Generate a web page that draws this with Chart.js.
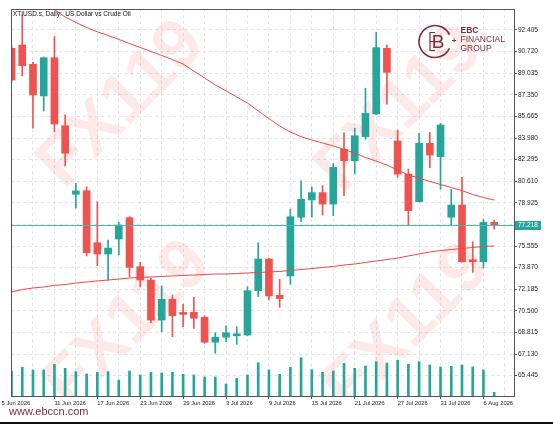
<!DOCTYPE html>
<html>
<head>
<meta charset="utf-8">
<script src="https://cdn.jsdelivr.net/npm/chart.js@4.4.1/dist/chart.umd.min.js"></script>
<style>
html,body{margin:0;padding:0;background:#fff;}
canvas{display:block;}
</style>
</head>
<body>
<canvas id="chart" width="553" height="424"></canvas>
<script>
// daily bars, XTIUSD.s
const dates = [
"5 Jun 2026","8 Jun 2026","9 Jun 2026","10 Jun 2026","11 Jun 2026","12 Jun 2026",
"15 Jun 2026","16 Jun 2026","17 Jun 2026","18 Jun 2026","19 Jun 2026",
"22 Jun 2026","23 Jun 2026","24 Jun 2026","25 Jun 2026","26 Jun 2026",
"29 Jun 2026","30 Jun 2026","1 Jul 2026","2 Jul 2026","3 Jul 2026",
"6 Jul 2026","7 Jul 2026","8 Jul 2026","9 Jul 2026","10 Jul 2026",
"13 Jul 2026","14 Jul 2026","15 Jul 2026","16 Jul 2026","17 Jul 2026",
"20 Jul 2026","21 Jul 2026","22 Jul 2026","23 Jul 2026","24 Jul 2026",
"27 Jul 2026","28 Jul 2026","29 Jul 2026","30 Jul 2026","31 Jul 2026",
"3 Aug 2026","4 Aug 2026","5 Aug 2026","6 Aug 2026","7 Aug 2026"
];

const open = [90.98,91.23,89.73,87.26,90.24,84.94,79.59,79.87,75.81,74.93,76.10,
77.76,73.94,72.90,69.78,71.40,70.30,70.38,70.00,68.05,68.44,68.55,68.61,72.07,
74.54,71.71,73.22,77.80,79.15,79.72,78.83,83.10,82.21,84.08,85.85,90.98,83.75,
81.17,79.01,83.57,82.52,77.80,78.75,74.40,74.33,77.40];
const high = [91.20,93.58,89.89,90.30,91.88,85.78,80.45,80.18,79.01,76.02,77.40,
77.85,74.28,73.03,72.44,71.73,71.03,71.55,70.10,68.79,69.32,69.26,72.38,75.81,
74.60,72.96,78.42,80.63,80.18,80.26,82.00,84.39,84.74,87.86,92.23,91.24,84.60,
81.56,84.35,84.42,85.13,79.98,80.92,75.89,77.66,77.58];
const low = [88.30,88.82,84.74,86.09,84.47,81.80,78.50,74.78,74.02,72.90,74.88,
73.16,72.38,69.57,68.87,68.48,69.26,69.13,67.96,67.19,68.09,67.89,68.55,71.60,
71.35,70.77,72.57,77.45,77.80,77.97,77.92,79.48,81.17,83.88,85.80,86.61,80.92,
77.14,79.00,81.66,79.98,77.19,74.30,73.50,73.82,76.86];
const close = [88.50,89.62,87.34,90.24,85.07,82.79,79.85,75.03,74.93,75.40,77.19,
73.89,72.90,69.78,71.40,70.12,70.22,69.92,68.05,68.44,68.79,68.60,72.07,74.54,
71.66,71.45,77.84,79.20,79.72,78.83,81.69,82.21,84.16,85.90,91.03,89.10,81.17,
78.31,83.57,82.65,85.00,78.75,74.33,74.33,77.40,77.218];

const volume = [2500,2870,2600,2600,3170,2770,2430,2200,2370,2430,1600,2500,2100,
2370,2300,2370,2170,2100,1900,1900,1200,1770,2100,3330,2600,2170,2870,3830,2630,
2370,2500,3270,2770,3000,3430,3300,3570,3170,3430,3100,2900,2970,3100,2900,2600,370];

// moving averages
const maShort = [95.92,95.45,94.98,94.51,94.00,93.42,92.99,92.60,92.27,91.98,91.67,
91.35,91.04,90.73,90.42,90.10,89.75,89.20,88.66,88.12,87.65,87.18,86.71,86.09,
85.50,84.92,84.45,84.08,83.82,83.59,83.36,83.09,82.81,82.46,82.18,81.87,81.48,
81.09,80.86,80.59,80.35,80.12,79.88,79.57,79.34,79.14];
const maLong = [71.97,72.16,72.28,72.36,72.48,72.55,72.67,72.75,72.83,72.90,72.98,
73.06,73.10,73.14,73.18,73.22,73.26,73.29,73.33,73.37,73.37,73.41,73.45,73.49,
73.53,73.57,73.65,73.72,73.80,73.88,73.96,74.07,74.15,74.27,74.39,74.50,74.62,
74.78,74.93,75.09,75.20,75.28,75.36,75.44,75.52,75.56];

const yTicks = [92.405,90.720,89.035,87.350,85.665,83.980,82.295,80.610,78.925,
77.240,75.555,73.870,72.185,70.500,68.815,67.130,65.445];
const lastPrice = 77.218;

const up = "#26a69a";
const down = "#ef5350";
const gridCol = "#e4e4e4";
const frameCol = "#555";
const brand = "#7b2d3d";

const idx = dates.map((d,i)=>i);
const bodyColors = idx.map(i=> close[i]>=open[i] ? up : down);

const decor = {
id:"decor",
beforeDatasetsDraw(chart){
const {ctx, chartArea:a} = chart;
ctx.save();
ctx.beginPath();
ctx.rect(a.left,a.top,a.right-a.left,a.bottom-a.top);
ctx.clip();
// watermarks
ctx.font = "bold 70px 'Liberation Sans'";
ctx.fillStyle = "rgba(239,83,80,0.13)";
ctx.textAlign = "center";
ctx.textBaseline = "middle";
[[122,105],[400,110],[128,325],[407,328]].forEach(p=>{
ctx.save();
ctx.translate(p[0],p[1]);
ctx.rotate(-Math.PI/4);
ctx.fillText("FX119",0,0);
ctx.restore();
});
ctx.restore();
},
afterDatasetsDraw(chart){
const {ctx, chartArea:a, scales} = chart;
// current price line
const py = Math.round(scales.y.getPixelForValue(lastPrice))+0.5;
ctx.save();
ctx.strokeStyle = "#4db6ac";
ctx.lineWidth = 1;
ctx.beginPath();
ctx.moveTo(a.left,py);
ctx.lineTo(a.right,py);
ctx.stroke();
ctx.restore();
},
afterDraw(chart){
const {ctx, chartArea:a, scales} = chart;
ctx.save();
// frame left and top
ctx.strokeStyle = frameCol;
ctx.lineWidth = 1;
ctx.beginPath();
ctx.moveTo(Math.round(a.left)+0.5,a.bottom);
ctx.lineTo(Math.round(a.left)+0.5,Math.round(a.top)+0.5);
ctx.lineTo(a.right,Math.round(a.top)+0.5);
ctx.stroke();

// title
ctx.fillStyle = "#111";
ctx.font = "6.5px 'Liberation Sans'";
ctx.textAlign = "left";
ctx.textBaseline = "middle";
ctx.fillText("XTIUSD.s, Daily:  US Dollar vs Crude Oil", 13, 14);

// price tag
const py = Math.round(scales.y.getPixelForValue(lastPrice));
ctx.fillStyle = up;
ctx.fillRect(a.right+1, py-4, 26, 9);
ctx.fillStyle = "#fff";
ctx.font = "6.5px 'Liberation Sans'";
ctx.fillText(lastPrice.toFixed(3), a.right+4, py+0.5);

// logo
ctx.strokeStyle = brand;
ctx.fillStyle = brand;
ctx.lineWidth = 1.6;
ctx.beginPath();
ctx.arc(435,41.5,16,0.45,Math.PI*2-0.45);
ctx.stroke();
ctx.font = "19px 'Liberation Sans'";
ctx.textAlign = "center";
ctx.fillText("B",438,42.5);
ctx.lineWidth = 1.2;
ctx.beginPath();
ctx.moveTo(430,32);
ctx.lineTo(430,51);
ctx.moveTo(430,32.5);ctx.lineTo(435,32.5);
ctx.moveTo(430,41.5);ctx.lineTo(434,41.5);
ctx.moveTo(430,50.5);ctx.lineTo(435,50.5);
ctx.stroke();
ctx.font = "bold 8px 'Liberation Sans'";
ctx.fillText("+",454,41);
ctx.textAlign = "left";
ctx.font = "bold 8.5px 'Liberation Sans'";
ctx.fillText("EBC",460.5,30.5);
ctx.font = "8.5px 'Liberation Sans'";
ctx.fillText("FINANCIAL",460.5,40);
ctx.fillText("GROUP",460.5,49);

// site
ctx.font = "11px 'Liberation Sans'";
ctx.textBaseline = "alphabetic";
ctx.fillText("www.ebccn.com", 9, 415);

// bottom edge
ctx.fillStyle = "#111";
ctx.fillRect(0,422,553,2);
ctx.restore();
}
};

const chart = new Chart(document.getElementById("chart"),{
type:"bar",
data:{
datasets:[
{
type:"line",
data:idx.map(i=>({x:i,y:maShort[i]})),
borderColor:"#f0463f",
borderWidth:1,
pointRadius:0,
tension:0,
order:0
},
{
type:"line",
data:idx.map(i=>({x:i,y:maLong[i]})),
borderColor:"#f0463f",
borderWidth:1,
pointRadius:0,
tension:0,
order:0
},
{
data:idx.map(i=>({x:i,y:[open[i],close[i]]})),
backgroundColor:bodyColors,
barThickness:7,
minBarLength:2,
grouped:false,
order:1
},
{
data:idx.map(i=>({x:i,y:[low[i],high[i]]})),
backgroundColor:bodyColors,
barThickness:1,
grouped:false,
order:2
},
{
data:idx.map(i=>({x:i,y:volume[i]})),
backgroundColor:up,
barThickness:2,
grouped:false,
yAxisID:"yv",
order:3
}
]
},
options:{
responsive:false,
animation:false,
devicePixelRatio:1,
layout:{padding:{left:11,top:9,right:0,bottom:0}},
plugins:{legend:{display:false},tooltip:{enabled:false}},
scales:{
x:{
type:"linear",
min:-0.05,
max:46.85,
offset:false,
afterBuildTicks:s=>{
const t=[{value:-0.93}];
for(let i=2;i<=46;i+=2){t.push({value:i});}
s.ticks=t;
},
afterFit:s=>{s.height=28;s.paddingLeft=0;s.paddingRight=0;},
ticks:{
align:"start",
autoSkip:false,
maxRotation:0,
minRotation:0,
padding:1,
color:"#222",
font:{size:5.8,family:"'Liberation Sans'"},
callback:v=>{
if(v<0){return dates[0];}
const i=Math.round(v);
return (i%4===0 && dates[i]) ? dates[i] : "";
}
},
grid:{
offset:false,
color:c=>(c.tick && c.tick.value<0) ? "rgba(0,0,0,0)" : gridCol,
tickLength:3,
tickBorderDash:[],
tickColor:c=>(c.tick && c.tick.value>0 && Math.round(c.tick.value)%4===0) ? frameCol : "rgba(0,0,0,0)"
},
border:{color:frameCol,dash:[3,3]}
},
y:{
position:"right",
min:63.855,
max:94.043,
afterBuildTicks:s=>{s.ticks=yTicks.map(v=>({value:v}));},
afterFit:s=>{s.width=39;s.paddingTop=0;s.paddingBottom=0;},
ticks:{
padding:1,
color:"#222",
font:{size:6.5,family:"'Liberation Sans'"},
callback:v=>v.toFixed(3)
},
grid:{
color:gridCol,
tickLength:3,
tickBorderDash:[],
tickColor:frameCol
},
border:{color:frameCol,dash:[3,3]}
},
yv:{
display:false,
min:0,
max:38700
}
}
},
plugins:[decor]
});
</script>
</body>
</html>
